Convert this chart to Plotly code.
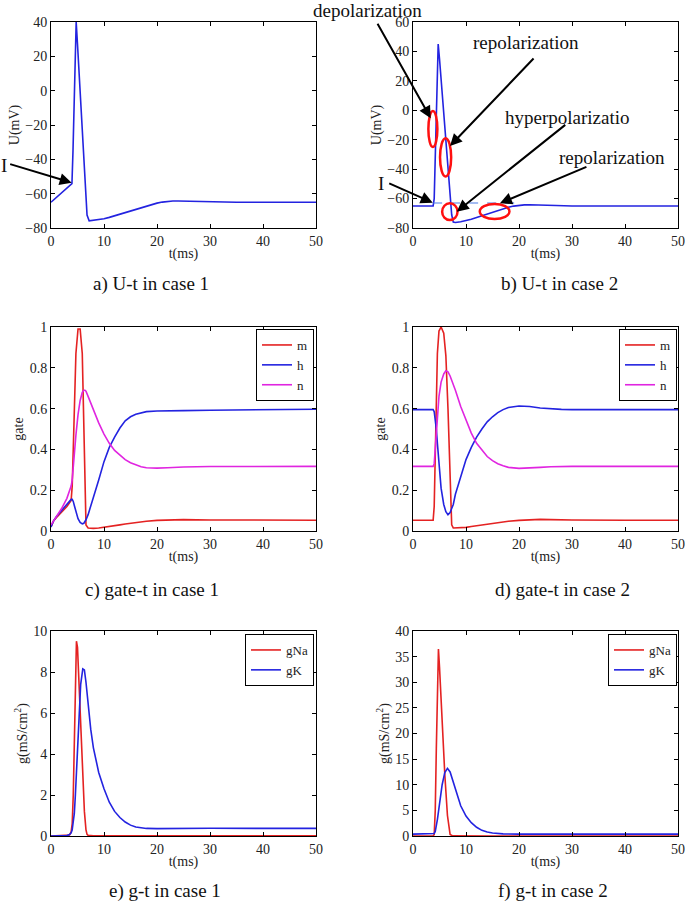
import plotly.graph_objects as go

# ---------------- data ----------------
# a) U-t case 1
t_u1 = [0, 1, 2, 3, 3.95, 4.15, 4.35, 4.55, 4.75, 5.0, 5.4, 5.8, 6.2, 6.5, 6.8, 7.2, 8, 9, 10, 11, 12,
        13, 14, 15, 16, 17, 18, 19, 20, 21, 22, 23, 24, 25, 27, 30, 35, 40, 45, 50]
U1 = [-65, -62.4, -59.8, -57.2, -54.2, -35, -10, 18, 40, 27, 5, -18, -42, -60, -72.5, -75.8, -75.5, -75.1,
      -74.6, -73.8, -72.9, -71.9, -71.0, -70.1, -69.1, -68.1, -67.1, -66.2, -65.5, -64.9, -64.5, -64.3,
      -64.3, -64.4, -64.6, -64.9, -65, -65, -65, -65]

# b) U-t case 2
t_u2 = [0, 3.8, 4.0, 4.2, 4.4, 4.6, 4.75, 5.0, 5.5, 6.0, 6.5, 7.0, 7.3, 7.6, 8, 9, 10, 11, 12, 13, 14, 15,
        16, 17, 18, 19, 20, 21, 22, 23, 25, 27, 30, 40, 50]
U2 = [-65, -65, -60, -30, 5, 35, 45, 35, 13, -10, -33, -57, -71, -76, -76.3, -75.8, -75, -74, -72.8, -71.6,
      -70.3, -69.1, -67.9, -66.8, -65.9, -65.1, -64.6, -64.3, -64.2, -64.2, -64.4, -64.7, -65, -65, -65]
rest_t = [3.8, 20.5]
rest_U = [-63, -63]

# c) gate-t case 1
t_g1 = [0, 0.5, 1, 2, 3, 3.8, 4.0, 4.2, 4.4, 4.7, 5.1, 5.5, 5.9, 6.2, 6.4, 6.6, 7, 8, 9, 10, 11, 12, 13,
        14, 15, 16, 17, 18, 20, 22, 25, 30, 40, 50]
m1 = [0.02, 0.05, 0.065, 0.09, 0.12, 0.15, 0.22, 0.4, 0.6, 0.87, 0.99, 0.99, 0.87, 0.55, 0.22, 0.03, 0.015,
      0.013, 0.015, 0.018, 0.022, 0.026, 0.03, 0.034, 0.038, 0.042, 0.045, 0.048, 0.052, 0.055, 0.056,
      0.054, 0.053, 0.053]
h1 = [0.02, 0.05, 0.07, 0.1, 0.13, 0.155, 0.155, 0.145, 0.125, 0.09, 0.06, 0.042, 0.035, 0.038, 0.045,
      0.055, 0.08, 0.16, 0.25, 0.34, 0.41, 0.46, 0.505, 0.54, 0.56, 0.572, 0.58, 0.585, 0.588, 0.588,
      0.59, 0.592, 0.595, 0.597]
n1 = [0.03, 0.05, 0.07, 0.11, 0.16, 0.22, 0.25, 0.32, 0.38, 0.47, 0.57, 0.64, 0.68, 0.69, 0.69, 0.685,
      0.66, 0.59, 0.53, 0.475, 0.43, 0.395, 0.37, 0.35, 0.335, 0.323, 0.315, 0.31, 0.308, 0.31, 0.314,
      0.316, 0.317, 0.317]

# d) gate-t case 2
t_g2 = [0, 3.8, 4.0, 4.2, 4.4, 4.6, 4.9, 5.3, 5.8, 6.2, 6.6, 7.0, 7.3, 7.6, 8, 9, 10, 11, 12, 13, 14, 15,
        16, 17, 18, 20, 22, 24, 26, 28, 30, 40, 50]
m2 = [0.053, 0.053, 0.12, 0.4, 0.68, 0.87, 0.98, 1.0, 0.97, 0.86, 0.6, 0.22, 0.03, 0.015, 0.015, 0.015,
      0.018, 0.022, 0.026, 0.03, 0.034, 0.038, 0.042, 0.045, 0.048, 0.052, 0.055, 0.057, 0.056, 0.055,
      0.054, 0.053, 0.053]
h2 = [0.595, 0.595, 0.585, 0.55, 0.5, 0.43, 0.33, 0.21, 0.13, 0.095, 0.08, 0.09, 0.11, 0.13, 0.18, 0.27,
      0.35, 0.41, 0.46, 0.5, 0.535, 0.56, 0.58, 0.595, 0.605, 0.613, 0.61, 0.603, 0.598, 0.596, 0.595,
      0.595, 0.595]
n2 = [0.317, 0.317, 0.33, 0.4, 0.48, 0.56, 0.66, 0.73, 0.77, 0.785, 0.78, 0.76, 0.74, 0.72, 0.69, 0.61,
      0.54, 0.48, 0.43, 0.395, 0.365, 0.345, 0.33, 0.32, 0.312, 0.307, 0.308, 0.312, 0.315, 0.316, 0.317,
      0.317, 0.317]

# e) g-t case 1
t_c1 = [0, 3, 3.5, 3.8, 4.0, 4.2, 4.4, 4.6, 4.8, 5.0, 5.3, 5.6, 6.0, 6.3, 6.6, 6.8, 7.0, 7.5, 8, 9, 10, 11,
        12, 13, 14, 15, 16, 18, 20, 25, 30, 40, 50]
gNa1 = [0, 0.02, 0.05, 0.2, 0.6, 2.0, 4.5, 8.0, 9.5, 9.2, 7.2, 5.0, 2.6, 1.2, 0.3, 0.08, 0.03, 0.01, 0.01,
        0.01, 0.01, 0.01, 0.01, 0.01, 0.01, 0.01, 0.01, 0.01, 0.01, 0.01, 0.01, 0.01, 0.01]
gK1 = [0, 0.02, 0.07, 0.15, 0.3, 0.6, 1.1, 2.0, 3.2, 4.6, 6.2, 7.4, 8.15, 8.1, 7.5, 7.0, 6.4, 5.2, 4.3, 3.1,
       2.3, 1.65, 1.2, 0.9, 0.68, 0.53, 0.44, 0.37, 0.36, 0.38, 0.38, 0.37, 0.37]

# f) g-t case 2
t_c2 = [0, 3.8, 4.0, 4.2, 4.4, 4.6, 4.8, 5.0, 5.5, 6.0, 6.5, 7.0, 7.5, 8, 9, 10, 11, 12, 13, 14, 15, 17, 20,
        30, 40, 50]
gNa2 = [0.01, 0.01, 0.3, 5, 17, 30, 36.5, 33, 22, 12, 4, 0.3, 0.02, 0.01, 0.01, 0.01, 0.01, 0.01, 0.01,
        0.01, 0.01, 0.01, 0.01, 0.01, 0.01, 0.01]
gK2 = [0.37, 0.37, 0.5, 0.9, 1.8, 3.2, 4.7, 6.3, 10.0, 12.4, 13.2, 12.5, 10.8, 8.8, 5.9, 3.9, 2.6, 1.7, 1.1,
       0.78, 0.58, 0.42, 0.36, 0.37, 0.37, 0.37]

captions = ["a) U-t in case 1", "b) U-t in case 2", "c) gate-t in case 1",
            "d) gate-t in case 2", "e) g-t in case 1", "f) g-t in case 2"]

# ---------------- styling ----------------
W, H = 685, 901
SERIF = "Liberation Serif, Times New Roman, serif"
BLUE = "#2323e0"
RED = "#e42222"
MAG = "#e025e0"


def px_x(a, b):
    return [a / W, b / W]


def px_y(top, bottom):
    return [1 - bottom / H, 1 - top / H]


colL, colR = px_x(51, 316), px_x(413, 678)
row1, row2, row3 = px_y(22, 228), px_y(327, 531), px_y(631, 836)

fig = go.Figure()


def line(x, y, color, name, xa, ya, legend=None, show=False):
    fig.add_trace(go.Scatter(x=x, y=y, mode="lines", name=name,
                             line=dict(color=color, width=1.6),
                             xaxis=xa, yaxis=ya, showlegend=show,
                             legend=legend if legend else "legend"))


line(t_u1, U1, BLUE, "U", "x", "y")
line(t_u2, U2, BLUE, "U", "x2", "y2")
fig.add_trace(go.Scatter(x=rest_t, y=rest_U, mode="lines", showlegend=False,
                         line=dict(color="#4a7be6", width=1.2, dash="dash"),
                         xaxis="x2", yaxis="y2"))
line(t_g1, m1, RED, "m", "x3", "y3", "legend", True)
line(t_g1, h1, BLUE, "h", "x3", "y3", "legend", True)
line(t_g1, n1, MAG, "n", "x3", "y3", "legend", True)
line(t_g2, m2, RED, "m", "x4", "y4", "legend2", True)
line(t_g2, h2, BLUE, "h", "x4", "y4", "legend2", True)
line(t_g2, n2, MAG, "n", "x4", "y4", "legend2", True)
line(t_c1, gNa1, RED, "gNa", "x5", "y5", "legend3", True)
line(t_c1, gK1, BLUE, "gK", "x5", "y5", "legend3", True)
line(t_c2, gNa2, RED, "gNa", "x6", "y6", "legend4", True)
line(t_c2, gK2, BLUE, "gK", "x6", "y6", "legend4", True)

tickfont = dict(family=SERIF, size=14, color="#222")
titlefont = dict(family=SERIF, size=14, color="#222")


def xaxis(dom, anchor):
    return dict(domain=dom, anchor=anchor, range=[0, 50], dtick=10, tick0=0,
                showline=True, linecolor="black", linewidth=1, mirror="ticks",
                ticks="inside", ticklen=4, tickcolor="black", showgrid=False,
                zeroline=False, tickfont=tickfont, automargin=False,
                title=dict(text="t(ms)", font=titlefont, standoff=0))


def yaxis(dom, anchor, rng, dt, title):
    return dict(domain=dom, anchor=anchor, range=rng, dtick=dt, tick0=0,
                showline=True, linecolor="black", linewidth=1, mirror="ticks",
                ticks="inside", ticklen=4, tickcolor="black", showgrid=False,
                zeroline=False, tickfont=tickfont, automargin=False,
                title=dict(text=title, font=titlefont, standoff=2))


gtitle = "g(mS/cm<sup>2</sup>)"
legend_style = dict(bgcolor="white", bordercolor="black", borderwidth=1,
                    font=dict(family=SERIF, size=13, color="#222"),
                    xanchor="right", yanchor="top", itemwidth=30,
                    tracegroupgap=0)

fig.update_layout(
    width=W, height=H, margin=dict(l=0, r=0, t=0, b=0),
    paper_bgcolor="white", plot_bgcolor="white",
    xaxis=xaxis(colL, "y"), yaxis=yaxis(row1, "x", [-80, 40], 20, "U(mV)"),
    xaxis2=xaxis(colR, "y2"), yaxis2=yaxis(row1, "x2", [-80, 60], 20, "U(mV)"),
    xaxis3=xaxis(colL, "y3"), yaxis3=yaxis(row2, "x3", [0, 1], 0.2, "gate"),
    xaxis4=xaxis(colR, "y4"), yaxis4=yaxis(row2, "x4", [0, 1], 0.2, "gate"),
    xaxis5=xaxis(colL, "y5"), yaxis5=yaxis(row3, "x5", [0, 10], 2, gtitle),
    xaxis6=xaxis(colR, "y6"), yaxis6=yaxis(row3, "x6", [0, 40], 5, gtitle),
    legend=dict(legend_style, x=314 / W, y=1 - 329 / H),
    legend2=dict(legend_style, x=677 / W, y=1 - 329 / H),
    legend3=dict(legend_style, x=314 / W, y=1 - 634 / H),
    legend4=dict(legend_style, x=677 / W, y=1 - 634 / H),
)

# captions under each panel
cap_pos = [(151, 284), (559, 284), (152, 590), (562, 590), (165, 891), (553, 891)]
for text, (cx, cy) in zip(captions, cap_pos):
    fig.add_annotation(text=text, x=cx / W, y=1 - cy / H, xref="paper", yref="paper",
                       showarrow=False, font=dict(family=SERIF, size=19, color="#111"),
                       xanchor="center", yanchor="middle")

# phase markers in panel b (red ellipses), data coordinates
ellipses = [(2.9, 4.6, -0.5, -25), (5.1, 7.2, -19, -45), (5.5, 8.4, -63.2, -74.6), (12.6, 18.2, -63.7, -73.9)]
for x0, x1, y0, y1 in ellipses:
    fig.add_shape(type="circle", xref="x2", yref="y2", x0=x0, x1=x1, y0=y0, y1=y1,
                  line=dict(color="#ff1010", width=2.5))

# labels with arrows
labels = [("depolarization", 367, 10), ("repolarization", 526, 43), ("hyperpolarizatio", 567, 118),
          ("repolarization", 612, 157), ("I", 381, 183), ("I", 4, 165)]
for text, lx, ly in labels:
    fig.add_annotation(text=text, x=lx / W, y=1 - ly / H, xref="paper", yref="paper",
                       showarrow=False, font=dict(family=SERIF, size=19, color="#111"),
                       xanchor="center", yanchor="middle")

arrows = [("x2", "y2", 3.34, -5.4, -54, -96), ("x2", "y2", 6.98, -24.3, 85, -89),
          ("x2", "y2", 8.25, -68.9, 110, -88), ("x2", "y2", 16.4, -63.2, 88, -37),
          ("x2", "y2", 3.72, -62.8, -45, -20), ("x", "y", 3.9, -53.6, -63, -19)]
for xr, yr, hx, hy, ax, ay in arrows:
    fig.add_annotation(text="", x=hx, y=hy, xref=xr, yref=yr, ax=ax, ay=ay,
                       showarrow=True, arrowhead=2, arrowsize=1.2, arrowwidth=2,
                       arrowcolor="black")

fig.write_html("out.html", config={"displayModeBar": False},
               post_script="document.body.style.margin='0px';document.body.style.overflow='hidden';")
